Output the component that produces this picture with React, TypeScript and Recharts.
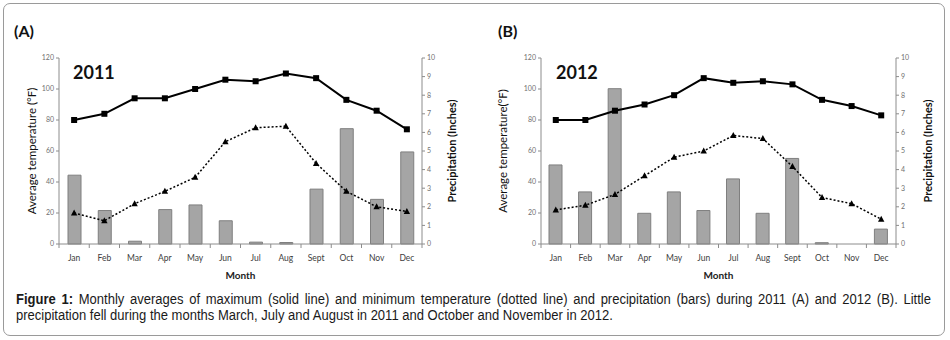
import React from "react";
import { ComposedChart, Bar, Line, XAxis, YAxis } from "recharts";

const months = ["Jan", "Feb", "Mar", "Apr", "May", "Jun", "Jul", "Aug", "Sept", "Oct", "Nov", "Dec"];

const maxTemp2011 = [80, 84, 94, 94, 100, 106, 105, 110, 107, 93, 86, 74];
const minTemp2011 = [20, 15, 26, 34, 43, 66, 75, 76, 52, 34, 24, 21];
const precip2011 = [3.7, 1.8, 0.15, 1.85, 2.1, 1.25, 0.1, 0.08, 2.95, 6.2, 2.4, 4.95];

const maxTemp2012 = [80, 80, 86, 90, 96, 107, 104, 105, 103, 93, 89, 83];
const minTemp2012 = [22, 25, 32, 44, 56, 60, 70, 68, 50, 30, 26, 16];
const precip2012 = [4.25, 2.8, 8.35, 1.65, 2.8, 1.8, 3.5, 1.65, 4.6, 0.07, 0, 0.8];

const tempTicks = [0, 20, 40, 60, 80, 100, 120];
const precipTicks = [0, 1, 2, 3, 4, 5, 6, 7, 8, 9, 10];

const build = (mx: number[], mn: number[], pr: number[]) =>
  months.map((m, i) => ({ month: m, max: mx[i], min: mn[i], precip: pr[i] }));

const data2011 = build(maxTemp2011, minTemp2011, precip2011);
const data2012 = build(maxTemp2012, minTemp2012, precip2012);

const FONT = "Lato, 'Open Sans', 'Liberation Sans', sans-serif";
const AXIS_COLOR = "#8c8c8c";

const SquareDot = (props: any) => {
  const { cx, cy, index } = props;
  if (cx == null || cy == null) return <g key={`s${index}`} />;
  return <rect key={`s${index}`} x={cx - 3} y={cy - 3} width={6} height={6} fill="#000" />;
};

const TriDot = (props: any) => {
  const { cx, cy, index } = props;
  if (cx == null || cy == null) return <g key={`t${index}`} />;
  return (
    <polygon
      key={`t${index}`}
      points={`${cx},${cy - 3.5} ${cx - 3.2},${cy + 2.5} ${cx + 3.2},${cy + 2.5}`}
      fill="#000"
    />
  );
};

const MonthTick = (props: any) => {
  const { x, y, payload, index, visibleTicksCount } = props;
  const off = typeof payload?.offset === "number" ? payload.offset : 15;
  const last = index === (visibleTicksCount ?? 12) - 1;
  return (
    <g>
      <line x1={x - off} x2={x - off} y1={y - 8} y2={y - 4} stroke={AXIS_COLOR} strokeWidth={1} />
      {last && <line x1={x + off} x2={x + off} y1={y - 8} y2={y - 4} stroke={AXIS_COLOR} strokeWidth={1} />}
      <text x={x} y={y + 9} textAnchor="middle" fontSize={8.5} fill="#404040" fontFamily={FONT}>
        {payload.value}
      </text>
    </g>
  );
};

type PanelProps = {
  data: any[];
  width: number;
  leftW: number;
  rightW: number;
  leftTitle: string;
  leftTitleOffset: number;
  rightTitleOffset: number;
};

const Panel = ({ data, width, leftW, rightW, leftTitle, leftTitleOffset, rightTitleOffset }: PanelProps) => (
  <ComposedChart
    width={width}
    height={292}
    data={data}
    margin={{ top: 58, right: 0, bottom: 0, left: 0 }}
    barCategoryGap={0}
  >
    <XAxis
      dataKey="month"
      xAxisId="x"
      height={48}
      tickLine={false}
      axisLine={{ stroke: AXIS_COLOR }}
      tick={<MonthTick />}
      interval={0}
      label={(p: any) => {
        const vb = p.viewBox;
        return (
          <text
            x={vb.x + vb.width / 2}
            y={vb.y + 35}
            textAnchor="middle"
            fontSize={10}
            fontWeight="bold"
            fill="#222"
            fontFamily={FONT}
          >
            Month
          </text>
        );
      }}
    />
    <YAxis
      yAxisId="temp"
      orientation="left"
      width={leftW}
      domain={[0, 120]}
      ticks={tempTicks}
      interval={0}
      tickSize={3}
      tickLine={{ stroke: AXIS_COLOR }}
      axisLine={{ stroke: AXIS_COLOR }}
      tick={{ fontSize: 7, fill: "#707070", fontFamily: FONT }}
      label={(p: any) => {
        const vb = p.viewBox;
        const cx = vb.x + vb.width - leftTitleOffset;
        const cy = vb.y + vb.height / 2;
        return (
          <text
            x={cx}
            y={cy}
            transform={`rotate(-90 ${cx} ${cy})`}
            textAnchor="middle"
            dominantBaseline="central"
            fontSize={11.5}
            fill="#111"
            fontFamily={FONT}
          >
            {leftTitle}
          </text>
        );
      }}
    />
    <YAxis
      yAxisId="precip"
      orientation="right"
      width={rightW}
      domain={[0, 10]}
      ticks={precipTicks}
      interval={0}
      tickSize={3}
      tickLine={{ stroke: AXIS_COLOR }}
      axisLine={{ stroke: AXIS_COLOR }}
      tick={{ fontSize: 7, fill: "#707070", fontFamily: FONT }}
      label={(p: any) => {
        const vb = p.viewBox;
        const cx = vb.x + rightTitleOffset;
        const cy = vb.y + vb.height / 2;
        return (
          <text
            x={cx}
            y={cy}
            transform={`rotate(-90 ${cx} ${cy})`}
            textAnchor="middle"
            dominantBaseline="central"
            fontSize={11}
            fontWeight="bold"
            fill="#111"
            fontFamily={FONT}
          >
            Precipitation (Inches)
          </text>
        );
      }}
    />
    <Bar
      xAxisId="x"
      yAxisId="precip"
      dataKey="precip"
      barSize={13}
      fill="#a5a5a5"
      stroke="#7f7f7f"
      strokeWidth={1}
      isAnimationActive={false}
    />
    <Line
      xAxisId="x"
      yAxisId="temp"
      dataKey="max"
      stroke="#000"
      strokeWidth={2}
      dot={SquareDot}
      activeDot={false}
      isAnimationActive={false}
    />
    <Line
      xAxisId="x"
      yAxisId="temp"
      dataKey="min"
      stroke="#000"
      strokeWidth={1.5}
      strokeDasharray="2 2"
      dot={TriDot}
      activeDot={false}
      isAnimationActive={false}
    />
  </ComposedChart>
);

const CAPTION_FONT = "'Liberation Sans', Arial, sans-serif";
const SCALE = 0.93;

export default function App() {
  return (
    <div
      style={{
        position: "absolute",
        left: 0,
        top: 0,
        width: 950,
        height: 340,
        background: "#fff",
        overflow: "hidden",
      }}
    >
      <div
        style={{
          position: "absolute",
          left: 3,
          top: 3,
          width: 940,
          height: 331,
          border: "1px solid #9a9a9a",
          borderRadius: 7,
        }}
      />
      <div style={{ position: "absolute", left: 0, top: 0 }}>
        <Panel
          data={data2011}
          width={480}
          leftW={59}
          rightW={58}
          leftTitle="Average temperature (°F)"
          leftTitleOffset={28}
          rightTitleOffset={29}
        />
      </div>
      <div style={{ position: "absolute", left: 480, top: 0 }}>
        <Panel
          data={data2012}
          width={470}
          leftW={61}
          rightW={54}
          leftTitle="Average temperature(°F)"
          leftTitleOffset={39}
          rightTitleOffset={31}
        />
      </div>
      <div
        style={{
          position: "absolute",
          left: 14,
          top: 21,
          fontFamily: FONT,
          fontWeight: "bold",
          fontSize: 16,
          color: "#111",
        }}
      >
        (A)
      </div>
      <div
        style={{
          position: "absolute",
          left: 498,
          top: 21,
          fontFamily: FONT,
          fontWeight: "bold",
          fontSize: 16,
          color: "#111",
        }}
      >
        (B)
      </div>
      <div
        style={{
          position: "absolute",
          left: 73,
          top: 61,
          fontFamily: FONT,
          fontWeight: "bold",
          fontSize: 18,
          color: "#111",
        }}
      >
        2011
      </div>
      <div
        style={{
          position: "absolute",
          left: 556,
          top: 61,
          fontFamily: FONT,
          fontWeight: "bold",
          fontSize: 18,
          color: "#111",
        }}
      >
        2012
      </div>
      <div
        style={{
          position: "absolute",
          left: 16,
          top: 291,
          width: 915 / SCALE,
          transform: `scaleX(${SCALE})`,
          transformOrigin: "left top",
          fontFamily: CAPTION_FONT,
          fontSize: 14,
          lineHeight: "16px",
          color: "#1a1a1a",
        }}
      >
        <div style={{ textAlign: "justify", textAlignLast: "justify", whiteSpace: "nowrap" as any }}>
          <b>Figure 1:</b> Monthly averages of maximum (solid line) and minimum temperature (dotted line) and
          precipitation (bars) during 2011 (A) and 2012 (B). Little
        </div>
        <div>
          precipitation fell during the months March, July and August in 2011 and October and November in 2012.
        </div>
      </div>
    </div>
  );
}
